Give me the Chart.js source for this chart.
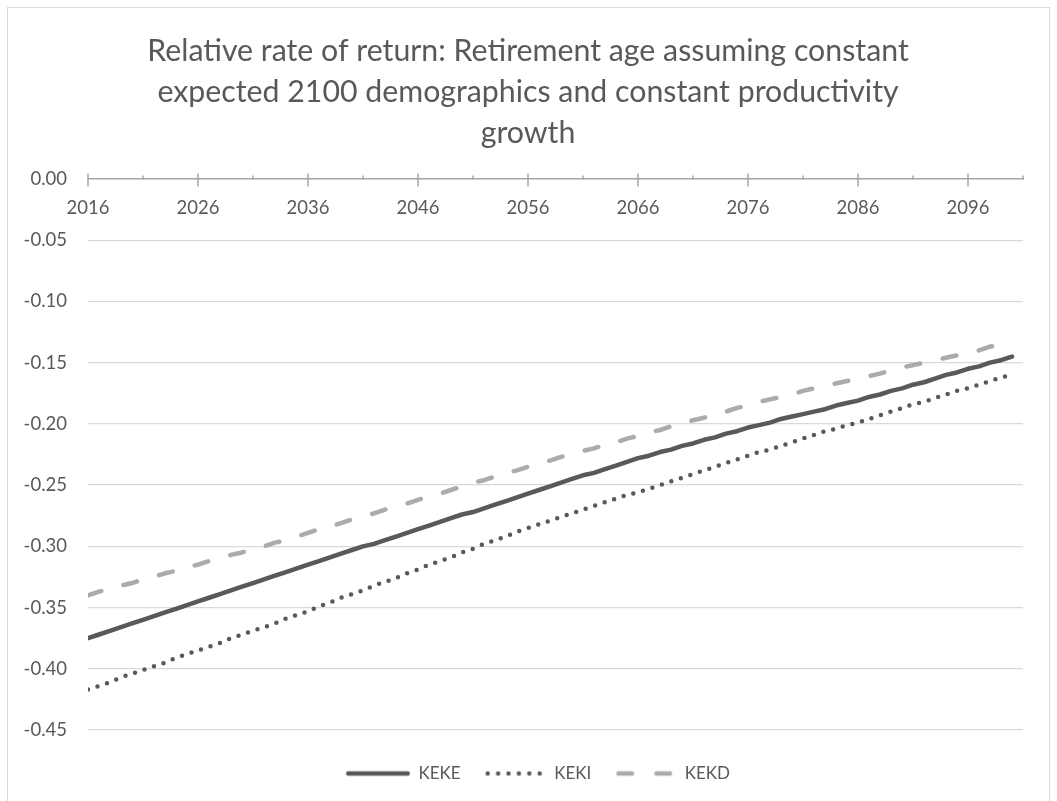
<!DOCTYPE html>
<html><head><meta charset="utf-8">
<script src="https://cdn.jsdelivr.net/npm/chart.js@4/dist/chart.umd.min.js"></script>
<style>html,body{margin:0;padding:0;background:#fff;}#wrap{width:1057px;height:801px;position:relative;}</style>
</head><body><div id="wrap"><canvas id="c" width="1057" height="801"></canvas></div>
<script>
const titleLines = ["Relative rate of return: Retirement age assuming constant", "expected 2100 demographics and constant productivity", "growth"];
const years = [2016,2017,2018,2019,2020,2021,2022,2023,2024,2025,2026,2027,2028,2029,2030,2031,2032,2033,2034,2035,2036,2037,2038,2039,2040,2041,2042,2043,2044,2045,2046,2047,2048,2049,2050,2051,2052,2053,2054,2055,2056,2057,2058,2059,2060,2061,2062,2063,2064,2065,2066,2067,2068,2069,2070,2071,2072,2073,2074,2075,2076,2077,2078,2079,2080,2081,2082,2083,2084,2085,2086,2087,2088,2089,2090,2091,2092,2093,2094,2095,2096,2097,2098,2099,2100];
const keke = [-0.375,-0.372,-0.369,-0.366,-0.363,-0.360,-0.357,-0.354,-0.351,-0.348,-0.345,-0.342,-0.339,-0.336,-0.333,-0.330,-0.327,-0.324,-0.321,-0.318,-0.315,-0.312,-0.309,-0.306,-0.303,-0.300,-0.298,-0.295,-0.292,-0.289,-0.286,-0.283,-0.280,-0.277,-0.274,-0.272,-0.269,-0.266,-0.263,-0.260,-0.257,-0.254,-0.251,-0.248,-0.245,-0.242,-0.240,-0.237,-0.234,-0.231,-0.228,-0.226,-0.223,-0.221,-0.218,-0.216,-0.213,-0.211,-0.208,-0.206,-0.203,-0.201,-0.199,-0.196,-0.194,-0.192,-0.190,-0.188,-0.185,-0.183,-0.181,-0.178,-0.176,-0.173,-0.171,-0.168,-0.166,-0.163,-0.160,-0.158,-0.155,-0.153,-0.150,-0.148,-0.145];
const keki = [-0.417,-0.414,-0.411,-0.407,-0.404,-0.401,-0.398,-0.395,-0.391,-0.388,-0.385,-0.382,-0.379,-0.375,-0.372,-0.369,-0.366,-0.363,-0.359,-0.356,-0.353,-0.349,-0.346,-0.342,-0.339,-0.336,-0.332,-0.329,-0.326,-0.322,-0.319,-0.315,-0.312,-0.309,-0.305,-0.302,-0.298,-0.295,-0.292,-0.288,-0.285,-0.282,-0.279,-0.276,-0.273,-0.270,-0.267,-0.264,-0.261,-0.258,-0.256,-0.253,-0.250,-0.247,-0.244,-0.241,-0.238,-0.235,-0.232,-0.229,-0.226,-0.223,-0.221,-0.218,-0.215,-0.212,-0.209,-0.206,-0.204,-0.201,-0.199,-0.196,-0.193,-0.190,-0.187,-0.184,-0.182,-0.179,-0.176,-0.173,-0.171,-0.168,-0.165,-0.162,-0.160];
const kekd = [-0.340,-0.337,-0.335,-0.332,-0.330,-0.327,-0.325,-0.322,-0.320,-0.317,-0.315,-0.312,-0.310,-0.307,-0.305,-0.302,-0.300,-0.297,-0.295,-0.292,-0.289,-0.286,-0.284,-0.281,-0.278,-0.276,-0.273,-0.270,-0.267,-0.265,-0.262,-0.259,-0.257,-0.254,-0.251,-0.248,-0.246,-0.243,-0.240,-0.238,-0.235,-0.232,-0.230,-0.227,-0.225,-0.222,-0.220,-0.217,-0.215,-0.212,-0.210,-0.207,-0.205,-0.202,-0.200,-0.197,-0.195,-0.192,-0.190,-0.187,-0.185,-0.182,-0.180,-0.178,-0.176,-0.173,-0.171,-0.169,-0.167,-0.165,-0.163,-0.161,-0.159,-0.156,-0.154,-0.152,-0.150,-0.148,-0.146,-0.144,-0.142,-0.140,-0.137,-0.135,-0.133];
const xTickYears = [2016,2026,2036,2046,2056,2066,2076,2086,2096];
const xMinorYears = [2021,2031,2041,2051,2061,2071,2081,2091,2101];
const yTicks = [0,-0.05,-0.10,-0.15,-0.20,-0.25,-0.30,-0.35,-0.40,-0.45];
const seriesNames = ["KEKE","KEKI","KEKD"];

const TXT = '#595959';
const FONT = 'Lato';
const TICKFONT = {family: FONT, size: 18.5};

const pts = vals => years.map((yr, i) => ({x: yr, y: vals[i]}));

// legend sample images (line style swatches)
function swatch(color, width, dash, x1, x2) {
  const cv = document.createElement('canvas');
  cv.width = 64; cv.height = 10;
  const c = cv.getContext('2d');
  c.strokeStyle = color; c.lineWidth = width; c.lineCap = 'round';
  c.setLineDash(dash);
  c.beginPath(); c.moveTo(x1, 5); c.lineTo(x2, 5); c.stroke();
  return cv;
}
const swatches = [
  swatch('#595959', 4.5, [], 2.25, 61.75),
  swatch('#595959', 4.5, [0, 10.4], 6, 58.1),
  swatch('#ababab', 4.5, [13.5, 24.5], 6.25, 57.75)
];

const framePlugin = {
  id: 'frame',
  beforeDraw(chart) {
    const c = chart.ctx;
    c.save();
    c.fillStyle = '#fff';
    c.fillRect(0, 0, chart.width, chart.height);
    c.strokeStyle = '#d9d9d9';
    c.lineWidth = 1;
    c.strokeRect(7.5, 7.5, chart.width - 15, chart.height + 10);
    c.restore();
  }
};
// centre the title on the page and the legend where the reference has it
const centreBoxes = {
  id: 'centreBoxes',
  afterLayout(chart) {
    const shift = (box, cx) => { if (!box) return; const d = cx - (box.left + box.right) / 2; box.left += d; box.right += d; };
    shift(chart.titleBlock, 528);
    shift(chart.legend, 538);
  }
};
const tickPlugin = {
  id: 'xticks',
  afterDraw(chart) {
    const xs = chart.scales.x, ys = chart.scales.y;
    const y0 = Math.round(ys.getPixelForValue(0)) + 0.5;
    const c = chart.ctx;
    c.save();
    c.strokeStyle = '#a6a6a6';
    c.lineWidth = 1.5;
    c.beginPath();
    xTickYears.forEach(v => { const px = xs.getPixelForValue(v); c.moveTo(px, y0 - 6); c.lineTo(px, y0 + 7); });
    xMinorYears.forEach(v => { const px = xs.getPixelForValue(v); c.moveTo(px, y0 - 4); c.lineTo(px, y0); });
    c.stroke();
    c.restore();
  }
};

new Chart(document.getElementById('c'), {
  type: 'line',
  data: {
    datasets: [
      {label: seriesNames[0], data: pts(keke), borderColor: '#595959', backgroundColor: '#595959', borderWidth: 4.5, borderCapStyle: 'round', borderJoinStyle: 'round', pointRadius: 0, tension: 0, fill: false},
      {label: seriesNames[1], data: pts(keki), borderColor: '#595959', backgroundColor: '#595959', borderWidth: 4.5, borderDash: [0, 10], borderCapStyle: 'round', borderJoinStyle: 'round', pointRadius: 0, tension: 0, fill: false},
      {label: seriesNames[2], data: pts(kekd), borderColor: '#ababab', backgroundColor: '#ababab', borderWidth: 4.5, borderDash: [14, 23], borderCapStyle: 'round', borderJoinStyle: 'round', pointRadius: 0, tension: 0, fill: false}
    ]
  },
  options: {
    responsive: false,
    animation: false,
    devicePixelRatio: 1,
    layout: {padding: {left: 0, right: 34, top: 0, bottom: 9}},
    plugins: {
      title: {display: true, text: titleLines, color: TXT, font: {family: FONT, size: 30.3, weight: 'normal', lineHeight: 1.353}, padding: {top: 31, bottom: 25}},
      legend: {
        position: 'bottom',
        labels: {
          usePointStyle: true, pointStyleWidth: 64, padding: 21, color: TXT, font: {family: FONT, size: 17},
          generateLabels: chart => Chart.defaults.plugins.legend.labels.generateLabels(chart).map((it, i) => Object.assign(it, {pointStyle: swatches[i]}))
        }
      },
      tooltip: {enabled: false}
    },
    scales: {
      x: {
        type: 'linear', position: {y: 0}, min: 2016, max: 2101,
        afterBuildTicks: s => { s.ticks = xTickYears.map(v => ({value: v})); },
        ticks: {color: TXT, font: TICKFONT, padding: 18, maxRotation: 0, autoSkip: false, callback: v => String(v)},
        grid: {drawOnChartArea: false, drawTicks: false},
        border: {color: '#a6a6a6', width: 1.5}
      },
      y: {
        min: -0.45, max: 0,
        afterBuildTicks: s => { s.ticks = yTicks.map(v => ({value: v})); },
        afterFit: s => { s.width = 88; },
        ticks: {color: TXT, font: TICKFONT, padding: 21, callback: v => v.toFixed(2)},
        grid: {color: ctx => (ctx.tick && ctx.tick.value === 0) ? 'rgba(0,0,0,0)' : '#d9d9d9', lineWidth: 1.3, drawTicks: false},
        border: {display: false}
      },
      xb: {
        type: 'linear', position: 'bottom', display: true,
        ticks: {display: false}, grid: {display: false, drawTicks: false}, border: {display: false},
        afterFit: s => { s.height = 14; }
      }
    }
  },
  plugins: [framePlugin, centreBoxes, tickPlugin]
});
</script></body></html>
